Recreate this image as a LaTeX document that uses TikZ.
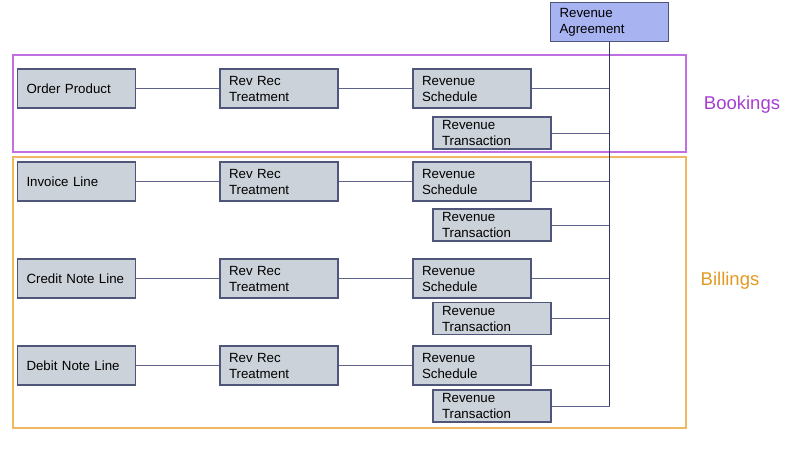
\documentclass[tikz,border=0pt]{standalone}
\usepackage{fontspec}
\setmainfont{Liberation Sans}
\definecolor{boxfill}{HTML}{CCD2D9}
\definecolor{boxline}{HTML}{50557A}
\definecolor{agrfill}{HTML}{A8B3F2}
\definecolor{linkgrey}{HTML}{5E6289}
\definecolor{spine}{HTML}{33365F}
\definecolor{bookpurple}{HTML}{C070E0}
\definecolor{booktext}{HTML}{A63ED2}
\definecolor{billorange}{HTML}{F0B860}
\definecolor{billtext}{HTML}{E29A22}
\tikzset{
	recbox/.style={draw=boxline, fill=boxfill, line width=1.1pt, minimum width=118pt, minimum height=39pt,
		text width=100pt, align=left, inner sep=0pt, font=\fontsize{13.3}{16}\selectfont},
	transbox/.style={recbox, minimum height=32pt},
	link/.style={linkgrey, line width=1pt},
	frame/.style={line width=1.1pt}
}
\begin{document}
\begin{tikzpicture}[x=1pt, y=-1pt]
		\useasboundingbox (0, 0) rectangle (800, 451);

		\draw[frame, bookpurple] (13, 55) rectangle (686, 152);
		\draw[frame, billorange] (13, 157) rectangle (686, 428);
		\node[booktext, font=\fontsize{18.5}{20}\selectfont] (bookings) at (742, 105) {Bookings};
		\node[billtext, font=\fontsize{18.5}{20}\selectfont] (billings) at (730, 281) {Billings};

		\node[recbox, fill=agrfill] (agr) at (609.5, 22) {Revenue\\Agreement};

		\node[recbox] (order) at (76.5, 88.5) {Order Product};
		\node[recbox] (rrt1) at (279, 88.5) {Rev Rec\\Treatment};
		\node[recbox] (sched1) at (472, 88.5) {Revenue\\Schedule};
		\node[transbox] (trans1) at (492, 133) {Revenue\\Transaction};

		\node[recbox] (invoice) at (76.5, 181.5) {Invoice Line};
		\node[recbox] (rrt2) at (279, 181.5) {Rev Rec\\Treatment};
		\node[recbox] (sched2) at (472, 181.5) {Revenue\\Schedule};
		\node[transbox] (trans2) at (492, 225) {Revenue\\Transaction};

		\node[recbox] (credit) at (76.5, 278.5) {Credit Note Line};
		\node[recbox] (rrt3) at (279, 278.5) {Rev Rec\\Treatment};
		\node[recbox] (sched3) at (472, 278.5) {Revenue\\Schedule};
		\node[transbox] (trans3) at (492, 318.5) {Revenue\\Transaction};

		\node[recbox] (debit) at (76.5, 365.5) {Debit Note Line};
		\node[recbox] (rrt4) at (279, 365.5) {Rev Rec\\Treatment};
		\node[recbox] (sched4) at (472, 365.5) {Revenue\\Schedule};
		\node[transbox] (trans4) at (492, 406) {Revenue\\Transaction};

		\draw[link] (order) -- (rrt1) -- (sched1);
		\draw[link] (invoice) -- (rrt2) -- (sched2);
		\draw[link] (credit) -- (rrt3) -- (sched3);
		\draw[link] (debit) -- (rrt4) -- (sched4);
		\foreach \r in {1, 2, 3, 4} {
			\draw[link] (sched\r.east) -- (sched\r.east -| agr.south);
			\draw[link] (trans\r.east) -- (trans\r.east -| agr.south);
		}

		\draw[spine, line width=1.5pt] (agr.south) -- (trans4.east -| agr.south);

	\end{tikzpicture}
\end{document}
